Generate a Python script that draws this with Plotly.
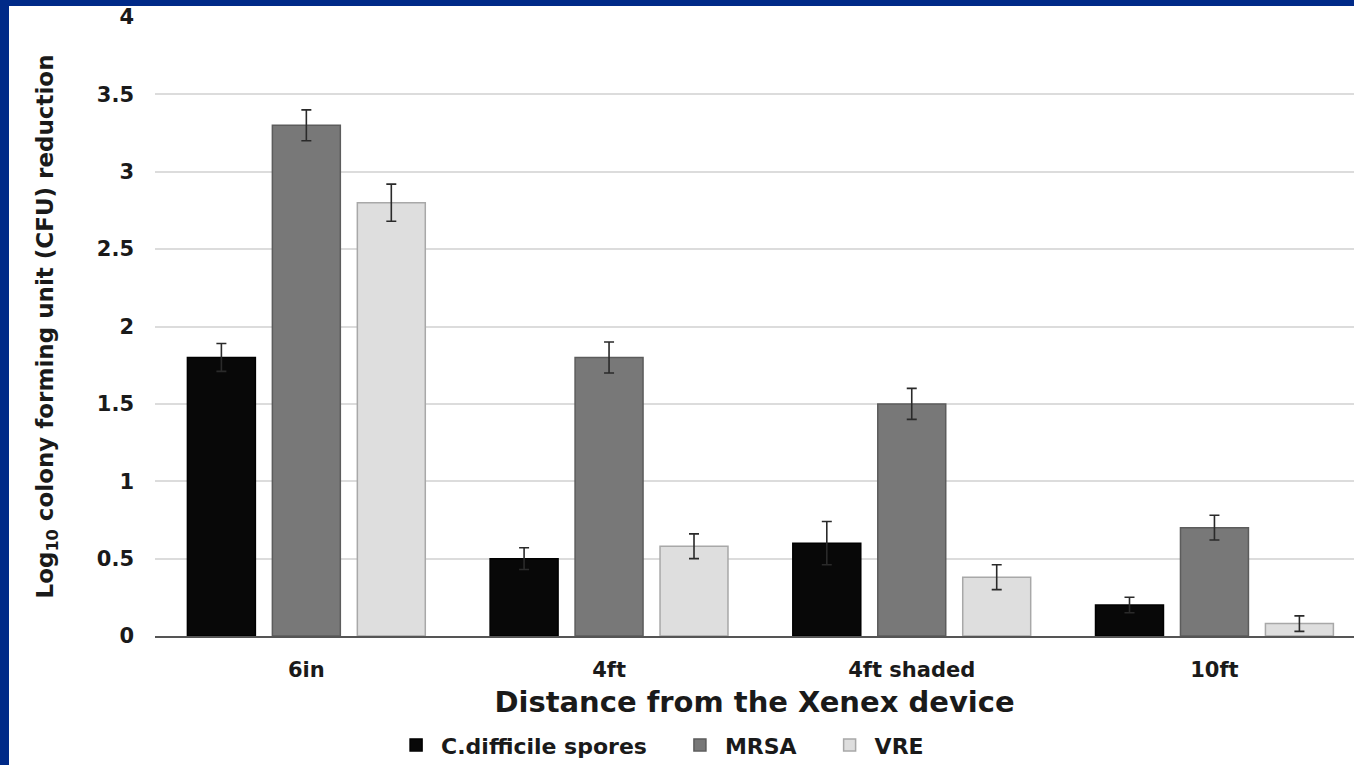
import plotly.graph_objects as go

# Distance categories and log10 CFU reductions per organism
distances = ["6in", "4ft", "4ft shaded", "10ft"]
series_names = ["C.difficile spores", "MRSA", "VRE"]
cdiff = [1.80, 0.50, 0.60, 0.20]
mrsa = [3.30, 1.80, 1.50, 0.70]
vre = [2.80, 0.58, 0.38, 0.08]
cdiff_err = [0.09, 0.07, 0.14, 0.05]
mrsa_err = [0.10, 0.10, 0.10, 0.08]
vre_err = [0.12, 0.08, 0.08, 0.05]
y_ticks = [0, 0.5, 1, 1.5, 2, 2.5, 3, 3.5, 4]

fills = ["#080808", "#787878", "#dedede"]
edges = ["#000000", "#5c5c5c", "#a8a8a8"]

W, H = 1354, 765
L, R, T, B = 155, 0, 17, 129

# padding after each legend label widens the gap between entries
pad = "\u00a0" * 3

fig = go.Figure()
for name, vals, errs, fc, ec in zip(series_names, [cdiff, mrsa, vre],
                                    [cdiff_err, mrsa_err, vre_err], fills, edges):
    fig.add_trace(go.Bar(
        x=distances, y=vals, name=name + pad,
        marker=dict(color=fc, line=dict(color=ec, width=1.5)),
        error_y=dict(type="data", array=errs, visible=True,
                     color="#2a2a2a", thickness=1.6, width=5),
    ))

font_family = "DejaVu Sans, Open Sans, sans-serif"

fig.update_layout(
    width=W, height=H,
    margin=dict(l=L, r=R, t=T, b=B, autoexpand=False),
    paper_bgcolor="white", plot_bgcolor="white",
    barmode="group", bargap=0.158, bargroupgap=0.2,
    font=dict(family=font_family, color="#1a1a1a"),
    showlegend=True,
    legend=dict(orientation="h", xref="container", yref="container",
                x=0.496, xanchor="center", y=0.026, yanchor="middle",
                font=dict(size=22, family=font_family, color="#1a1a1a", weight="bold"),
                itemwidth=40, traceorder="normal"),
    xaxis=dict(range=[-0.5, 3.461], showgrid=False, showline=True,
               linecolor="#555555", linewidth=2, ticks="",
               ticklabelstandoff=14,
               tickfont=dict(size=21, family=font_family, weight="bold"),
               title=dict(text="<b>Distance from the Xenex device</b>",
                          font=dict(size=29, family=font_family), standoff=10)),
    yaxis=dict(range=[0, 4], tickvals=y_ticks,
               ticktext=[("%g" % v) for v in y_ticks],
               showgrid=True, gridcolor="#dcdcdc", gridwidth=2,
               zeroline=False, showline=False, ticks="",
               ticklabelstandoff=20,
               tickfont=dict(size=21, family=font_family, weight="bold"),
               title=dict(text="<b>Log<sub>10</sub> colony forming unit (CFU) reduction</b>",
                          font=dict(size=23, family=font_family), standoff=36)),
)

# Slide frame strips along the left and top edges
ph = H - T - B
pw = W - L - R
fig.add_shape(type="rect", xref="paper", yref="paper",
              x0=-L / pw, x1=(9 - L) / pw, y0=-B / ph, y1=1 + T / ph,
              fillcolor="#002a88", line=dict(width=0), layer="above")
fig.add_shape(type="rect", xref="paper", yref="paper",
              x0=-L / pw, x1=1, y0=1 + (T - 6) / ph, y1=1 + T / ph,
              fillcolor="#002a88", line=dict(width=0), layer="above")

fig.write_html("out.html")
